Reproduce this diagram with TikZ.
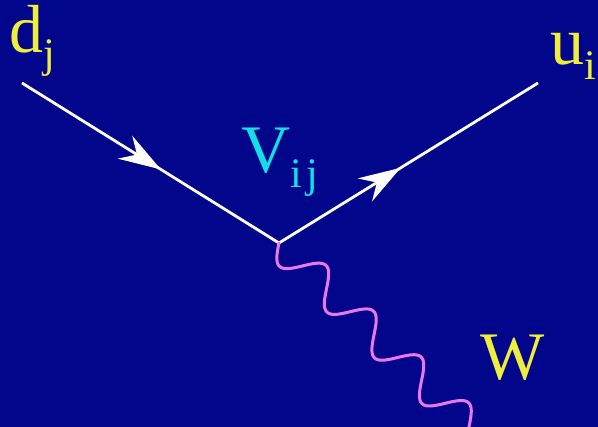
\documentclass[tikz,border=0pt]{standalone}
\usepackage{fontspec}
\setmainfont{Liberation Serif}
\usetikzlibrary{arrows.meta,decorations.markings,calc}

\definecolor{bgblue}{RGB}{2,6,138}
\definecolor{quarkyellow}{RGB}{240,238,60}
\definecolor{ckmcyan}{RGB}{20,222,232}
\definecolor{wpink}{RGB}{235,120,235}

\newcommand\lowsub[1]{\raisebox{-15pt}{\fontsize{42}{42}\selectfont #1}}

\begin{document}
\begin{tikzpicture}[
  x=1pt, y=1pt,
  fermion/.style={draw=white, line width=2.8pt, postaction={decorate},
                  decoration={markings, mark=at position #1 with
                    {\arrow{Stealth[length=42pt,width=27pt,inset=14pt]}}}},
  boson/.style={draw=wpink, line width=3pt, line cap=round},
  lab/.style={inner sep=0pt, anchor=base west, font=\fontsize{68}{68}\selectfont},
]

% ---------- background ----------
\fill[bgblue] (0,-427) rectangle (598,0);
\useasboundingbox (0,-427) rectangle (598,0);

% ---------- vertex and external legs ----------
\coordinate (vtx)  at (279,-243);
\coordinate (din)  at (22,-83);
\coordinate (uout) at (538,-83);
\coordinate (wout) at (470,-427);

\draw[fermion=0.54] (din) -- (vtx);
\draw[fermion=0.47] (vtx) -- (uout);
% W line: sine wave laid along vtx -> wout
\draw[boson] let \p1=($(wout)-(vtx)$), \n1={atan2(\y1,\x1)}, \n2={veclen(\x1,\y1)} in
  [shift={(vtx)}, rotate=\n1]
  plot[domain=0:\n2, samples=160, smooth] (\x, {-16.5*sin(\x/66*360)});

% ---------- labels ----------
\node[lab, text=quarkyellow] (dlab) at (9,-53)  {d\lowsub{j}};
\node[lab, text=quarkyellow] (ulab) at (550,-65) {u\lowsub{i}};
\node[lab, text=ckmcyan]     (vlab) at (241,-173) {V\lowsub{i\hspace{5pt}j}};
\node[lab, text=quarkyellow] (wlab) at (480,-380) {W};

\end{tikzpicture}
\end{document}
